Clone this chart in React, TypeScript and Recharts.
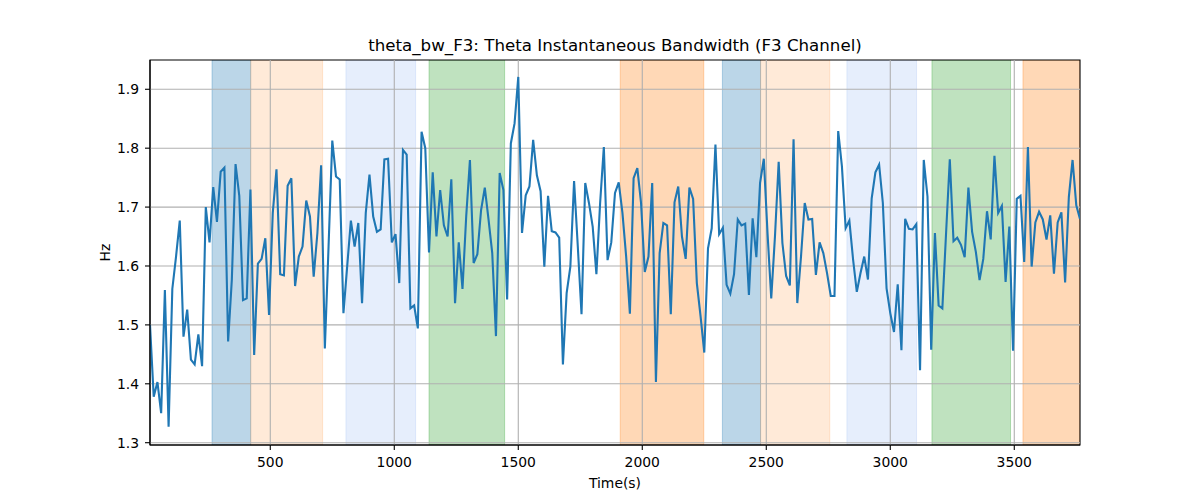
import React from "react";
import {
  ComposedChart,
  Line,
  XAxis,
  YAxis,
  ReferenceArea,
  ReferenceLine,
  Label,
} from "recharts";

const START_TIME = 15;
const TIME_STEP = 15;

const bandwidthHz: number[] = [
  1.5, 1.378, 1.403, 1.35, 1.559, 1.327, 1.561, 1.616, 1.677, 1.48,
  1.526, 1.441, 1.433, 1.484, 1.43, 1.7, 1.64, 1.734, 1.675, 1.76,
  1.767, 1.472, 1.577, 1.773, 1.719, 1.542, 1.545, 1.73, 1.449, 1.604,
  1.612, 1.647, 1.517, 1.69, 1.764, 1.586, 1.584, 1.736, 1.749, 1.566,
  1.616, 1.633, 1.711, 1.684, 1.582, 1.656, 1.771, 1.46, 1.633, 1.813,
  1.752, 1.747, 1.52, 1.599, 1.677, 1.633, 1.673, 1.537, 1.69, 1.755,
  1.684, 1.658, 1.662, 1.781, 1.782, 1.64, 1.654, 1.571, 1.797, 1.789,
  1.528, 1.533, 1.494, 1.828, 1.8, 1.623, 1.759, 1.65, 1.729, 1.669,
  1.65, 1.747, 1.537, 1.64, 1.561, 1.684, 1.78, 1.605, 1.62, 1.695,
  1.733, 1.679, 1.622, 1.481, 1.758, 1.729, 1.543, 1.808, 1.842, 1.921,
  1.656, 1.72, 1.735, 1.814, 1.754, 1.727, 1.599, 1.719, 1.659, 1.657,
  1.648, 1.433, 1.554, 1.599, 1.744, 1.633, 1.518, 1.741, 1.707, 1.667,
  1.586, 1.707, 1.802, 1.61, 1.64, 1.724, 1.742, 1.69, 1.616, 1.519,
  1.749, 1.766, 1.707, 1.59, 1.616, 1.741, 1.403, 1.622, 1.673, 1.669,
  1.518, 1.708, 1.735, 1.65, 1.612, 1.733, 1.714, 1.571, 1.515, 1.453,
  1.63, 1.664, 1.806, 1.654, 1.665, 1.568, 1.553, 1.586, 1.679, 1.669,
  1.672, 1.551, 1.681, 1.615, 1.741, 1.782, 1.656, 1.545, 1.65, 1.777,
  1.639, 1.583, 1.567, 1.815, 1.537, 1.616, 1.707, 1.679, 1.68, 1.585,
  1.64, 1.622, 1.588, 1.549, 1.549, 1.829, 1.769, 1.664, 1.677, 1.611,
  1.556, 1.588, 1.616, 1.577, 1.715, 1.759, 1.772, 1.707, 1.562, 1.52,
  1.488, 1.569, 1.457, 1.68, 1.663, 1.662, 1.671, 1.423, 1.78, 1.718,
  1.458, 1.656, 1.533, 1.528, 1.656, 1.781, 1.642, 1.648, 1.636, 1.615,
  1.733, 1.658, 1.624, 1.576, 1.612, 1.693, 1.645, 1.787, 1.69, 1.702,
  1.573, 1.667, 1.456, 1.714, 1.719, 1.607, 1.802, 1.599, 1.674, 1.692,
  1.679, 1.645, 1.686, 1.587, 1.674, 1.691, 1.572, 1.717, 1.78, 1.703,
  1.68,
];

const bandStarts: number[] = [265, 421, 805, 1140, 1911, 2323, 2477, 2825, 3168, 3535];
const bandEnds: number[] = [421, 711, 1086, 1445, 2248, 2477, 2756, 3106, 3485, 3765];
const bandKinds: string[] = [
  "blue", "peach", "lightblue", "green", "orange",
  "blue", "peach", "lightblue", "green", "orange",
];

const xTicks: number[] = [500, 1000, 1500, 2000, 2500, 3000, 3500];
const yTicks: number[] = [1.3, 1.4, 1.5, 1.6, 1.7, 1.8, 1.9];

const X_DOMAIN: [number, number] = [15, 3765];
const Y_DOMAIN: [number, number] = [1.2961, 1.9497];

const bandStyle: Record<string, { color: string; opacity: number }> = {
  blue: { color: "#1f77b4", opacity: 0.3 },
  peach: { color: "#ff7f0e", opacity: 0.16 },
  lightblue: { color: "#6495ed", opacity: 0.16 },
  green: { color: "#2ca02c", opacity: 0.3 },
  orange: { color: "#ff7f0e", opacity: 0.3 },
};

const data = bandwidthHz.map((v, i) => ({ t: START_TIME + i * TIME_STEP, v }));

const FONT = "'DejaVu Sans', sans-serif";
const TICK_FONT = 13.9;

const HzLabel = (props: any) => {
  const vb = props.viewBox || {};
  const cx = vb.x + 15;
  const cy = vb.y + vb.height / 2;
  return (
    <text
      x={cx}
      y={cy}
      transform={`rotate(-90, ${cx}, ${cy})`}
      textAnchor="middle"
      dominantBaseline="central"
      fontFamily={FONT}
      fontSize={TICK_FONT}
      fill="#000"
    >
      Hz
    </text>
  );
};

export default function App() {
  return (
    <div style={{ position: "absolute", left: 0, top: 0, width: 1200, height: 500, background: "#fff" }}>
      <div
        style={{
          position: "absolute",
          left: 150,
          width: 930,
          top: 38,
          textAlign: "center",
          fontFamily: FONT,
          fontSize: 16.67,
          lineHeight: "16.67px",
          color: "#000",
          whiteSpace: "nowrap",
        }}
      >
        theta_bw_F3: Theta Instantaneous Bandwidth (F3 Channel)
      </div>
      <ComposedChart
        width={1200}
        height={500}
        data={data}
        margin={{ top: 60, right: 120, bottom: 10, left: 90 }}
      >
        <XAxis
          dataKey="t"
          type="number"
          domain={X_DOMAIN}
          ticks={xTicks}
          allowDataOverflow
          height={45}
          tickSize={5}
          tickMargin={7}
          axisLine={{ stroke: "#000", strokeWidth: 1.1 }}
          tickLine={{ stroke: "#000", strokeWidth: 1.1 }}
          tick={{ fill: "#000", fontSize: TICK_FONT, fontFamily: FONT }}
        >
          <Label
            value="Time(s)"
            position="insideBottom"
            offset={2}
            style={{ fill: "#000", fontSize: TICK_FONT, fontFamily: FONT }}
          />
        </XAxis>
        <YAxis
          type="number"
          domain={Y_DOMAIN}
          ticks={yTicks}
          allowDataOverflow
          width={60}
          tickSize={5}
          tickMargin={6}
          axisLine={{ stroke: "#000", strokeWidth: 1.1 }}
          tickLine={{ stroke: "#000", strokeWidth: 1.1 }}
          tick={{ fill: "#000", fontSize: TICK_FONT, fontFamily: FONT }}
          tickFormatter={(v: number) => v.toFixed(1)}
        >
          <Label content={HzLabel} />
        </YAxis>
        {bandStarts.map((s, i) => {
          const st = bandStyle[bandKinds[i]];
          return (
            <ReferenceArea
              key={`band-${i}`}
              x1={s}
              x2={bandEnds[i]}
              y1={Y_DOMAIN[0]}
              y2={Y_DOMAIN[1]}
              fill={st.color}
              fillOpacity={st.opacity}
              stroke={st.color}
              strokeOpacity={st.opacity}
              strokeWidth={1}
              ifOverflow="hidden"
            />
          );
        })}
        {xTicks.map((x) => (
          <ReferenceLine key={`gx-${x}`} x={x} stroke="#b0b0b0" strokeWidth={1.1} />
        ))}
        {yTicks.map((y) => (
          <ReferenceLine key={`gy-${y}`} y={y} stroke="#b0b0b0" strokeWidth={1.1} />
        ))}
        <Line
          type="linear"
          dataKey="v"
          stroke="#1f77b4"
          strokeWidth={2.1}
          dot={false}
          activeDot={false}
          isAnimationActive={false}
        />
        <ReferenceArea
          x1={X_DOMAIN[0]}
          x2={X_DOMAIN[1]}
          y1={Y_DOMAIN[0]}
          y2={Y_DOMAIN[1]}
          fill="none"
          stroke="#000"
          strokeWidth={1.1}
          fillOpacity={0}
        />
      </ComposedChart>
    </div>
  );
}
